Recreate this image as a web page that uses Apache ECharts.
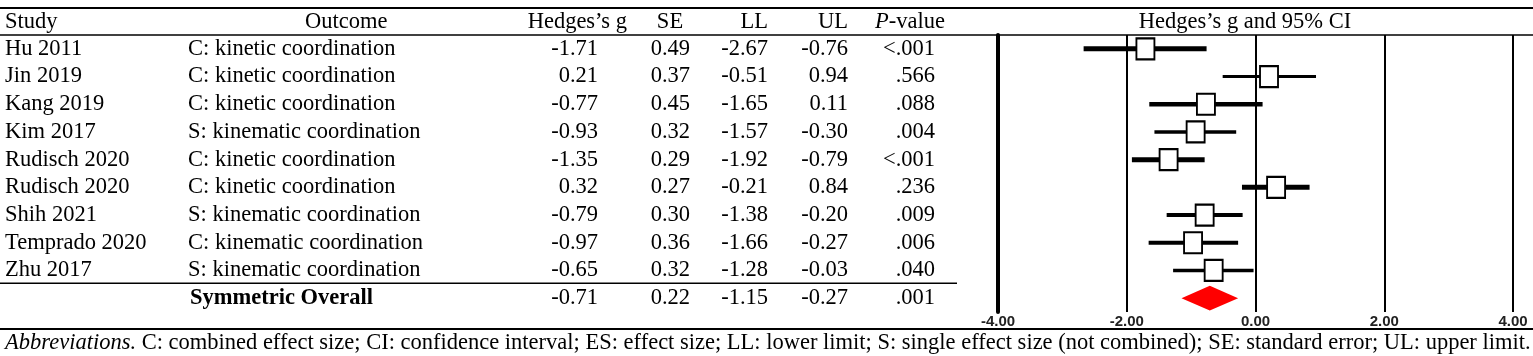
<!DOCTYPE html>
<html>
<head>
<meta charset="utf-8">
<script src="https://cdn.jsdelivr.net/npm/echarts@6/dist/echarts.min.js"></script>
<style>
html,body{margin:0;padding:0;background:#fff;}
#chart{width:1533px;height:356px;}
</style>
</head>
<body>
<div id="chart"></div>
<script>
// ---------- data ----------
const studies = ['Hu 2011','Jin 2019','Kang 2019','Kim 2017','Rudisch 2020','Rudisch 2020','Shih 2021','Temprado 2020','Zhu 2017'];
const outcomes = ['C: kinetic coordination','C: kinetic coordination','C: kinetic coordination','S: kinematic coordination','C: kinetic coordination','C: kinetic coordination','S: kinematic coordination','C: kinematic coordination','S: kinematic coordination'];
const hedgesG = [-1.71, 0.21, -0.77, -0.93, -1.35, 0.32, -0.79, -0.97, -0.65];
const stdErr  = [0.49, 0.37, 0.45, 0.32, 0.29, 0.27, 0.30, 0.36, 0.32];
const lowerLimit = [-2.67, -0.51, -1.65, -1.57, -1.92, -0.21, -1.38, -1.66, -1.28];
const upperLimit = [-0.76, 0.94, 0.11, -0.30, -0.79, 0.84, -0.20, -0.27, -0.03];
const pValues = ['<.001','.566','.088','.004','<.001','.236','.009','.006','.040'];
const overallLabel = 'Symmetric Overall';
const overallStats = [-0.71, 0.22, -1.15, -0.27]; // g, SE, LL, UL
const overallP = '.001';
const xTicks = [-4, -2, 0, 2, 4];
const headers = ['Study','Outcome','Hedges\u2019s g','SE','LL','UL','P-value','Hedges\u2019s g and 95% CI'];
const footnote = 'C: combined effect size; CI: confidence interval; ES: effect size; LL: lower limit; S: single effect size (not combined); SE: standard error; UL: upper limit.';

// ---------- styles ----------
const SERIF = '"Liberation Serif", "Times New Roman", serif';
const FS = 22.5;
const ciWidths = [5, 3, 4.5, 3.5, 5, 5, 4, 4, 3.5];
const nRows = studies.length + 1;

const chart = echarts.init(document.getElementById('chart'), null, {renderer: 'canvas'});

const option = {
  animation: false,
  backgroundColor: '#fff',
  grid: {left: 998, right: 20, top: 35, bottom: 44},
  xAxis: {
    type: 'value', min: xTicks[0], max: xTicks[xTicks.length - 1], interval: 2,
    axisLine: {show: false}, axisTick: {show: false},
    splitLine: {show: true, lineStyle: {color: '#000', width: 2}},
    axisLabel: {
      formatter: v => v.toFixed(2), margin: 2,
      fontFamily: '"Liberation Sans Narrow", "Liberation Sans", Arial, sans-serif', fontWeight: 'bold', fontSize: 15, color: '#222'
    }
  },
  yAxis: {
    type: 'value', inverse: true, min: -0.5, max: nRows - 0.5,
    axisLine: {show: true, onZero: false, lineStyle: {color: '#000', width: 4}},
    axisTick: {show: false}, axisLabel: {show: false}, splitLine: {show: false}
  },
  series: [
    {
      type: 'custom',
      data: hedgesG.map((g, i) => [lowerLimit[i], upperLimit[i], i]),
      encode: {x: [0, 1], y: 2},
      renderItem: function (params, api) {
        const p1 = api.coord([api.value(0), api.value(2)]);
        const p2 = api.coord([api.value(1), api.value(2)]);
        return {
          type: 'line',
          shape: {x1: p1[0], y1: p1[1], x2: p2[0], y2: p2[1]},
          style: {stroke: '#000', lineWidth: ciWidths[params.dataIndex]}
        };
      },
      z: 3
    },
    {
      type: 'scatter',
      data: hedgesG.map((g, i) => [g, i]),
      symbol: 'rect', symbolSize: [18, 21],
      itemStyle: {color: '#fff', borderColor: '#000', borderWidth: 2, opacity: 1},
      z: 4
    },
    {
      type: 'custom',
      data: [[overallStats[2], overallStats[0], overallStats[3], nRows - 1]],
      encode: {x: [0, 1, 2], y: 3},
      renderItem: function (params, api) {
        const y = api.value(3);
        const l = api.coord([api.value(0), y]);
        const c = api.coord([api.value(1), y]);
        const r = api.coord([api.value(2), y]);
        const h = api.size([0, 1])[1] * 0.45;
        return {
          type: 'polygon',
          shape: {points: [[l[0], l[1]], [c[0], c[1] - h], [r[0], r[1]], [c[0], c[1] + h]]},
          style: {fill: '#ff0000', stroke: null}
        };
      },
      z: 5
    }
  ]
};
chart.setOption(option);

// ---------- table (built from the arrays) ----------
function txt(x, y, text, align, extra) {
  return {
    type: 'text', x: x, y: y, silent: true,
    style: Object.assign({
      text: text, fill: '#000', font: FS + 'px ' + SERIF,
      fontSize: FS, fontFamily: SERIF,
      textAlign: align, align: align, textVerticalAlign: 'middle', verticalAlign: 'middle'
    }, extra || {})
  };
}
function hline(x1, x2, y, w) {
  return {type: 'line', silent: true, shape: {x1: x1, y1: y, x2: x2, y2: y}, style: {stroke: '#000', lineWidth: w}};
}
const rowY = i => chart.convertToPixel({yAxisIndex: 0}, i);
const graphics = [];
const headY = 22;
graphics.push(txt(5, headY, headers[0], 'left'));
graphics.push(txt(305, headY, headers[1], 'left'));
graphics.push(txt(627, headY, headers[2], 'right'));
graphics.push(txt(670, headY, headers[3], 'center'));
graphics.push(txt(768, headY, headers[4], 'right'));
graphics.push(txt(848, headY, headers[5], 'right'));
graphics.push(txt(945, headY, '{i|P}{n|-value}', 'right', {
  rich: {i: {fontStyle: 'italic', fontSize: FS, fontFamily: SERIF}, n: {fontSize: FS, fontFamily: SERIF}}
}));
graphics.push(txt(1245, headY, headers[7], 'center'));

studies.forEach((s, i) => {
  const y = rowY(i);
  graphics.push(txt(5, y, s, 'left'));
  graphics.push(txt(188, y, outcomes[i], 'left'));
  graphics.push(txt(598, y, hedgesG[i].toFixed(2), 'right'));
  graphics.push(txt(690, y, stdErr[i].toFixed(2), 'right'));
  graphics.push(txt(768, y, lowerLimit[i].toFixed(2), 'right'));
  graphics.push(txt(848, y, upperLimit[i].toFixed(2), 'right'));
  graphics.push(txt(935, y, pValues[i], 'right'));
});
const oy = rowY(nRows - 1);
graphics.push(txt(190, oy, overallLabel, 'left', {font: 'bold ' + FS + 'px ' + SERIF, fontWeight: 'bold'}));
graphics.push(txt(598, oy, overallStats[0].toFixed(2), 'right'));
graphics.push(txt(690, oy, overallStats[1].toFixed(2), 'right'));
graphics.push(txt(768, oy, overallStats[2].toFixed(2), 'right'));
graphics.push(txt(848, oy, overallStats[3].toFixed(2), 'right'));
graphics.push(txt(935, oy, overallP, 'right'));

// rules
graphics.push(hline(0, 1533, 8, 2));
graphics.push(hline(0, 1533, 35, 1.5));
const sepY = (rowY(nRows - 2) + rowY(nRows - 1)) / 2 - 1;
graphics.push(hline(0, 957, sepY, 1.5));
graphics.push(hline(0, 1533, 329, 2));

// footnote
graphics.push(txt(5, 343, '{i|Abbreviations.}{n| ' + footnote + '}', 'left', {
  rich: {i: {fontStyle: 'italic', fontSize: FS, fontFamily: SERIF}, n: {fontSize: FS, fontFamily: SERIF}}
}));

chart.setOption({graphic: {elements: graphics}});
</script>
</body>
</html>
